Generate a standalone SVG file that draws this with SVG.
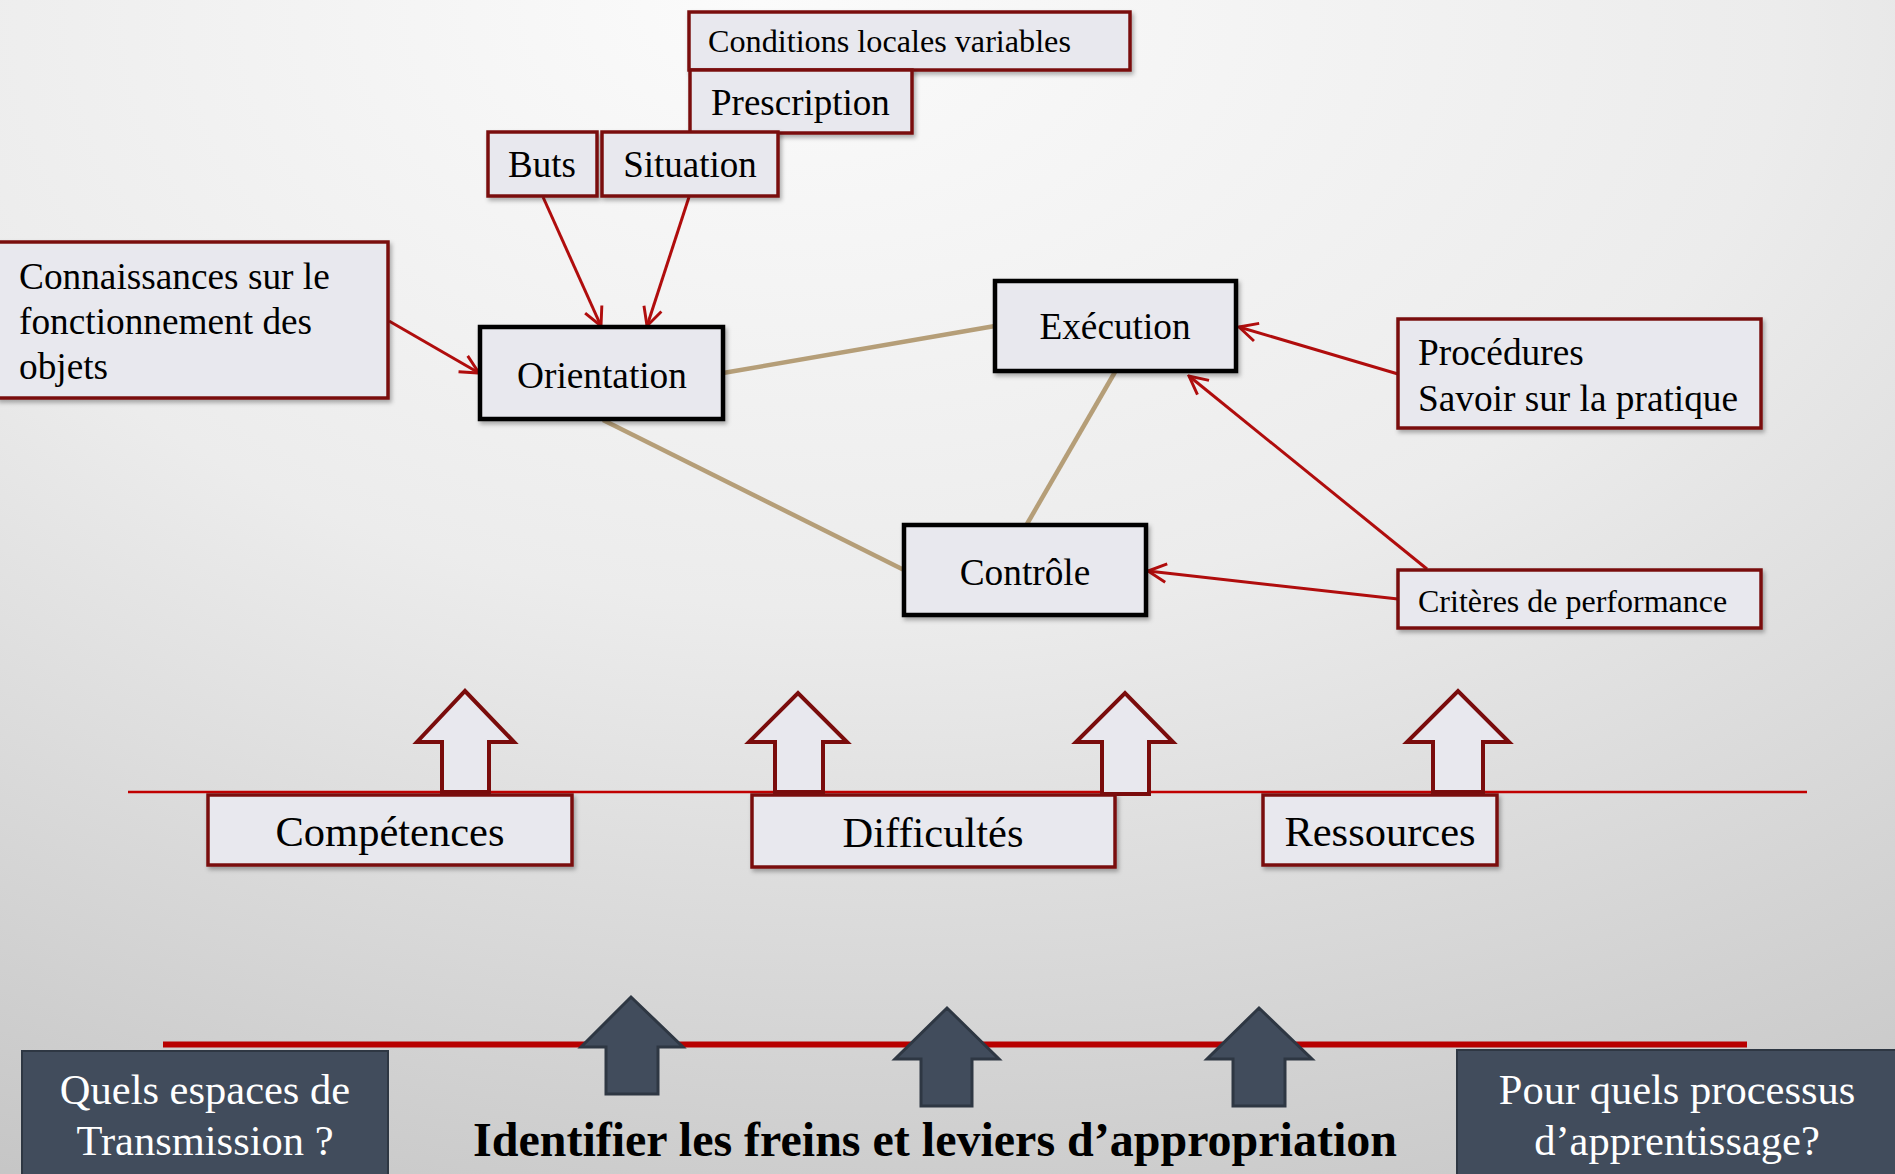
<svg xmlns="http://www.w3.org/2000/svg" width="1895" height="1174" viewBox="0 0 1895 1174">
<defs>
<radialGradient id="bg" cx="0.5" cy="0.05" r="1.1" fx="0.4" fy="0">
<stop offset="0" stop-color="#fbfbfb"/>
<stop offset="0.45" stop-color="#ececec"/>
<stop offset="1" stop-color="#c4c4c4"/>
</radialGradient>
<filter id="sh" x="-10%" y="-10%" width="130%" height="140%">
<feDropShadow dx="2" dy="3" stdDeviation="2" flood-color="#000" flood-opacity="0.3"/>
</filter>
<marker id="ah" viewBox="0 0 12 12" refX="11" refY="6" markerWidth="22" markerHeight="22" markerUnits="userSpaceOnUse" orient="auto">
<path d="M1,1 L11,6 L1,11" fill="none" stroke="#b00d0d" stroke-width="1.6"/>
</marker>
<style>
.rbox{fill:#e8e8ee;stroke:#7a1010;stroke-width:3.5;filter:url(#sh)}
.kbox{fill:#e8e8ee;stroke:#000;stroke-width:4.5;filter:url(#sh)}
.dbox{fill:#414c5c;stroke:#2e3743;stroke-width:2}
.t{font-family:"Liberation Serif","Times New Roman",serif;fill:#000}
.w{font-family:"Liberation Serif","Times New Roman",serif;fill:#fff;font-size:42.5px;text-anchor:middle}
.red{stroke:#b00d0d;stroke-width:3;fill:none;marker-end:url(#ah)}
.tan{stroke:#b59e78;stroke-width:4.5;fill:none}
.uarr{fill:#e8e8ee;stroke:#7a0c0c;stroke-width:4}
.darr{fill:#414c5c;stroke:#2e3743;stroke-width:3}
</style>
</defs>
<rect x="0" y="0" width="1895" height="1174" fill="url(#bg)"/>

<g id="connectors">
<line class="tan" x1="723" y1="373" x2="995" y2="326"/>
<line class="tan" x1="603" y1="420" x2="904" y2="570"/>
<line class="tan" x1="1115" y1="372" x2="1027" y2="524"/>
<line class="red" x1="543" y1="197" x2="601" y2="326"/>
<line class="red" x1="689" y1="197" x2="647" y2="326"/>
<line class="red" x1="389" y1="321" x2="479" y2="373"/>
<line class="red" x1="1398" y1="374" x2="1239" y2="327"/>
<line class="red" x1="1427" y1="569" x2="1189" y2="376"/>
<line class="red" x1="1398" y1="599" x2="1148" y2="571"/>
</g>

<g id="node-conditions"><rect class="rbox" x="689" y="12" width="441" height="58"/><text class="t" x="708" y="52" font-size="32.2">Conditions locales variables</text></g>
<g id="node-prescription"><rect class="rbox" x="690" y="70" width="222" height="63"/><text class="t" x="711" y="115" font-size="37">Prescription</text></g>
<g id="node-buts"><rect class="rbox" x="488" y="132" width="109" height="64"/><text class="t" x="542" y="177" font-size="37" text-anchor="middle">Buts</text></g>
<g id="node-situation"><rect class="rbox" x="602" y="132" width="176" height="64"/><text class="t" x="690" y="177" font-size="37" text-anchor="middle">Situation</text></g>
<g id="node-connaissances"><rect class="rbox" x="-2" y="242" width="390" height="156"/><text class="t" font-size="37.3"><tspan x="19" y="289">Connaissances sur le</tspan><tspan x="19" y="334">fonctionnement des</tspan><tspan x="19" y="379">objets</tspan></text></g>
<g id="node-orientation"><rect class="kbox" x="480" y="327" width="243" height="92"/><text class="t" x="602" y="388" font-size="37.3" text-anchor="middle">Orientation</text></g>
<g id="node-execution"><rect class="kbox" x="995" y="281" width="241" height="90"/><text class="t" x="1115" y="339" font-size="37.3" text-anchor="middle">Exécution</text></g>
<g id="node-controle"><rect class="kbox" x="904" y="525" width="242" height="90"/><text class="t" x="1025" y="585" font-size="37.3" text-anchor="middle">Contrôle</text></g>
<g id="node-procedures"><rect class="rbox" x="1398" y="319" width="363" height="109"/><text class="t" font-size="37.3"><tspan x="1418" y="365">Procédures</tspan><tspan x="1418" y="411">Savoir sur la pratique</tspan></text></g>
<g id="node-criteres"><rect class="rbox" x="1398" y="570" width="363" height="58"/><text class="t" x="1418" y="612" font-size="32">Critères de performance</text></g>

<g id="baseline-line"><line x1="128" y1="792" x2="1807" y2="792" stroke="#c00000" stroke-width="2.5"/></g>
<g id="up-arrows">
<path class="uarr" d="M442,792 V742 H417 L465,691 L514,742 H489 V792 Z"/>
<path class="uarr" d="M775,792 V742 H749 L798,693 L847,742 H823 V792 Z"/>
<path class="uarr" d="M1102,794 V742 H1076 L1125,693 L1173,742 H1149 V794 Z"/>
<path class="uarr" d="M1433,792 V742 H1407 L1458,691 L1509,742 H1483 V792 Z"/>
</g>
<g id="node-competences"><rect class="rbox" x="208" y="795" width="364" height="70"/><text class="t" x="390" y="846" font-size="42.5" text-anchor="middle">Compétences</text></g>
<g id="node-difficultes"><rect class="rbox" x="752" y="795" width="363" height="72"/><text class="t" x="933" y="847" font-size="42.5" text-anchor="middle">Difficultés</text></g>
<g id="node-ressources"><rect class="rbox" x="1263" y="795" width="234" height="70"/><text class="t" x="1380" y="846" font-size="42.5" text-anchor="middle">Ressources</text></g>

<g id="bottom-line"><line x1="163" y1="1044.5" x2="1747" y2="1044.5" stroke="#b80000" stroke-width="6"/></g>
<g id="dark-arrows">
<path class="darr" d="M606,1094 V1047 H581 L631,997 L683,1047 H658 V1094 Z"/>
<path class="darr" d="M921,1106 V1059 H895 L947,1008 L999,1059 H972 V1106 Z"/>
<path class="darr" d="M1233,1106 V1059 H1207 L1259,1008 L1312,1059 H1285 V1106 Z"/>
</g>
<g id="node-espaces"><rect class="dbox" x="22" y="1051" width="366" height="130"/><text class="w"><tspan x="205" y="1104">Quels espaces de</tspan><tspan x="205" y="1155">Transmission ?</tspan></text></g>
<g id="node-processus"><rect class="dbox" x="1457" y="1050" width="445" height="130"/><text class="w"><tspan x="1677" y="1104">Pour quels processus</tspan><tspan x="1677" y="1155">d’apprentissage?</tspan></text></g>
<g id="title"><text class="t" x="935" y="1156" font-size="48" font-weight="bold" text-anchor="middle">Identifier les freins et leviers d’appropriation</text></g>
</svg>
